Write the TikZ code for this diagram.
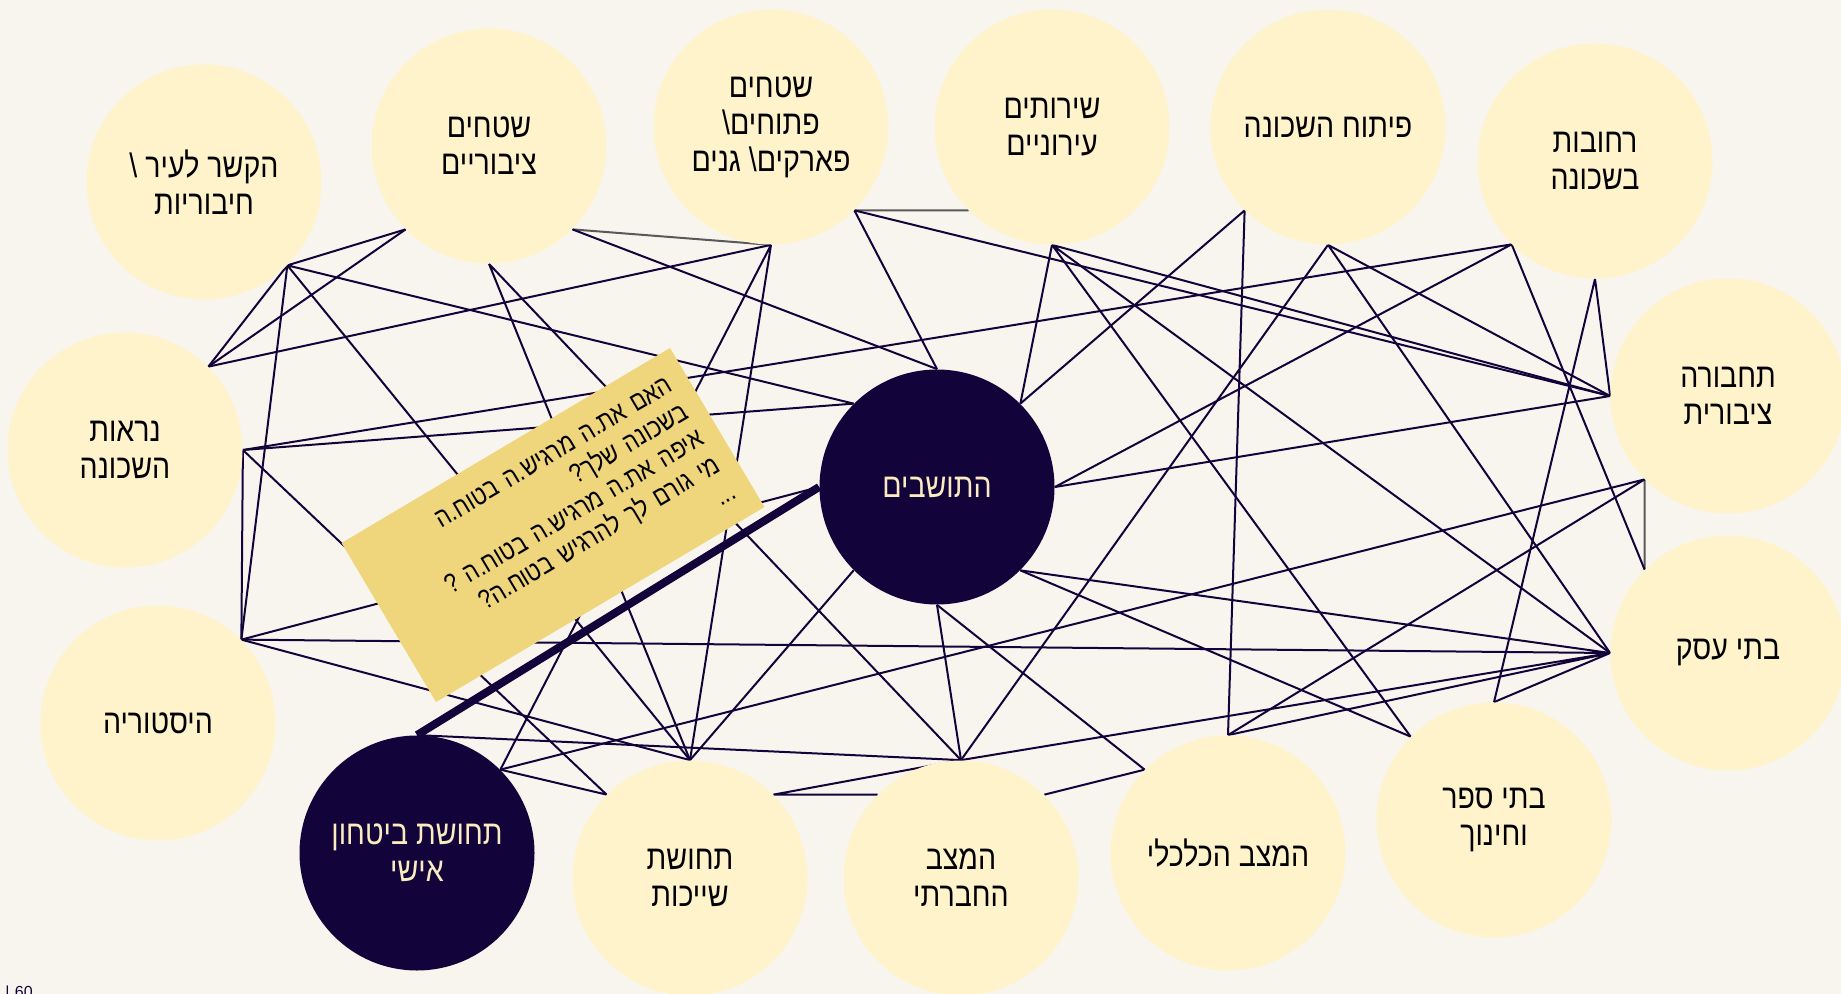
\documentclass[tikz,border=0pt]{standalone}
\usepackage{fontspec}
\setmainfont{Liberation Sans}
\newfontfamily\hebfont[Script=Hebrew,FakeStretch=0.84]{Liberation Sans}
\TeXXeTstate=1
\usepackage{tikz}
\usepackage{xcolor}

\definecolor{paper}{HTML}{F8F5EE}
\definecolor{bubble}{HTML}{FFF3CC}
\definecolor{ink}{HTML}{12043A}
\definecolor{sticky}{HTML}{EFD67D}
\definecolor{cream}{HTML}{FBEBC0}

\newcommand{\rtline}[1]{\beginR #1\endR}

\pgfdeclarelayer{paperlayer}
\pgfdeclarelayer{linklayer}
\pgfsetlayers{paperlayer,linklayer,main}

\begin{document}
\begin{tikzpicture}[x=0.5pt,y=-0.5pt,
    bubble/.style={circle,fill=bubble,minimum size=117.5pt,inner sep=0pt,
        align=center,text=black,font=\hebfont\fontsize{17}{18.5}\selectfont},
    core/.style={bubble,fill=ink,text=cream},
    link/.style={draw=ink,line width=1pt},
    faint/.style={draw=black!65,line width=1pt},
    notebox/.style={fill=sticky,rotate=30.7,minimum width=191pt,minimum height=92.5pt,
        inner xsep=9pt,text width=173pt,align=right,
        font=\hebfont\fontsize{13.5}{15.5}\selectfont}]

    % Page
    \useasboundingbox (0,0) rectangle (1841,994);
    \begin{pgfonlayer}{paperlayer}
        \fill[paper] (0,0) rectangle (1841,994);
    \end{pgfonlayer}

    % Circles
    \node[bubble] (city) at (204,182) {\rtline{הקשר לעיר \textbackslash}\\\rtline{חיבוריות}};
    \node[bubble] (public) at (489,146) {\rtline{שטחים}\\\rtline{ציבוריים}};
    \node[bubble] (parks) at (771,127) {\rtline{שטחים}\\\rtline{פתוחים\textbackslash}\\\rtline{פארקים\textbackslash{} גנים}};
    \node[bubble] (services) at (1052,127) {\rtline{שירותים}\\\rtline{עירוניים}};
    \node[bubble] (devel) at (1328,127) {\rtline{פיתוח השכונה}};
    \node[bubble] (streets) at (1595,161) {\rtline{רחובות}\\\rtline{בשכונה}};
    \node[bubble] (transit) at (1728,396) {\rtline{תחבורה}\\\rtline{ציבורית}};
    \node[bubble] (biz) at (1728,653) {\rtline{בתי עסק}};
    \node[bubble] (schools) at (1494,820) {\rtline{בתי ספר}\\\rtline{וחינוך}};
    \node[bubble] (econ) at (1228,853) {\rtline{המצב הכלכלי}};
    \node[bubble] (social) at (961,878) {\rtline{המצב}\\\rtline{החברתי}};
    \node[bubble] (belong) at (690,878) {\rtline{תחושת}\\\rtline{שייכות}};
    \node[core] (safety) at (417,853) {\rtline{תחושת ביטחון}\\\rtline{אישי}};
    \node[bubble] (history) at (158,723) {\rtline{היסטוריה}};
    \node[bubble] (looks) at (125,450) {\rtline{נראות}\\\rtline{השכונה}};
    \node[core] (people) at (937,487) {\rtline{התושבים}};

    % Links
    \begin{pgfonlayer}{linklayer}
    \draw[faint] (public.south east) -- (parks.south)
        (parks.south east) -- (services.south west)
        (transit.south west) -- (biz.north west);
    \draw[link] (city.south east) -- (public.south west)
        (city.south east) -- (looks.north east)
        (city.south east) -- (history.north east)
        (city.south east) -- (people.north west)
        (city.south east) -- (belong.north);
    \draw[link] (public.south west) -- (looks.north east)
        (public.south) -- (social.north)
        (public.south) -- (belong.north)
        (public.south east) -- (people.north);
    \draw[link] (parks.south) -- (looks.north east)
        (parks.south) -- (safety.north east)
        (parks.south) -- (belong.north)
        (parks.south east) -- (people.north)
        (parks.south east) -- (transit.west);
    \draw[link] (services.south) -- (people.north east)
        (services.south) -- (schools.north west)
        (services.south) -- (biz.west)
        (services.south) -- (transit.west);
    \draw[link] (devel.south west) -- (people.north east)
        (devel.south west) -- (econ.north)
        (devel.south) -- (social.north)
        (devel.south) -- (biz.west)
        (devel.south) -- (transit.west);
    \draw[link] (streets.south west) -- (looks.east)
        (streets.south west) -- (people.east)
        (streets.south west) -- (biz.north west)
        (streets.south) -- (transit.west)
        (streets.south) -- (schools.north);
    \draw[link] (transit.west) -- (people.east)
        (transit.south west) -- (econ.north)
        (transit.south west) -- (safety.north east);
    \draw[link] (biz.west) -- (history.north east)
        (biz.west) -- (people.south east)
        (biz.west) -- (social.north)
        (biz.west) -- (econ.north)
        (biz.west) -- (schools.north);
    \draw[link] (schools.north west) -- (people.south east)
        (econ.north west) -- (people.south)
        (econ.north west) -- (social.north east);
    \draw[link] (social.north) -- (people.south)
        (social.north) -- (belong.north east)
        (social.north) -- (safety.north)
        (social.north west) -- (belong.north east);
    \draw[link] (belong.north) -- (history.north east)
        (belong.north) -- (people.south west)
        (belong.north west) -- (safety.north east)
        (belong.north west) -- (looks.east);
    \draw[link] (history.north east) -- (looks.east)
        (history.north east) -- (people.west)
        (looks.east) -- (people.north west);
    \end{pgfonlayer}

    % Question note
    \node[notebox] (ask) at (553,525) {\rtline{האם את.ה מרגיש.ה בטוח.ה}\\
        \rtline{בשכונה שלך?}\\
        \rtline{איפה את.ה מרגיש.ה בטוח.ה ?}\\
        \rtline{מי גורם לך להרגיש בטוח.ה?}\\
        \rtline{...}};
    \draw[ink,line width=4pt] (safety.north) -- (people.west);

    % Page number
    \node[anchor=north west,inner sep=0pt,text=ink,font=\fontsize{8}{9}\selectfont] (pagenum) at (5,985) {|\,\,60};
\end{tikzpicture}
\end{document}
